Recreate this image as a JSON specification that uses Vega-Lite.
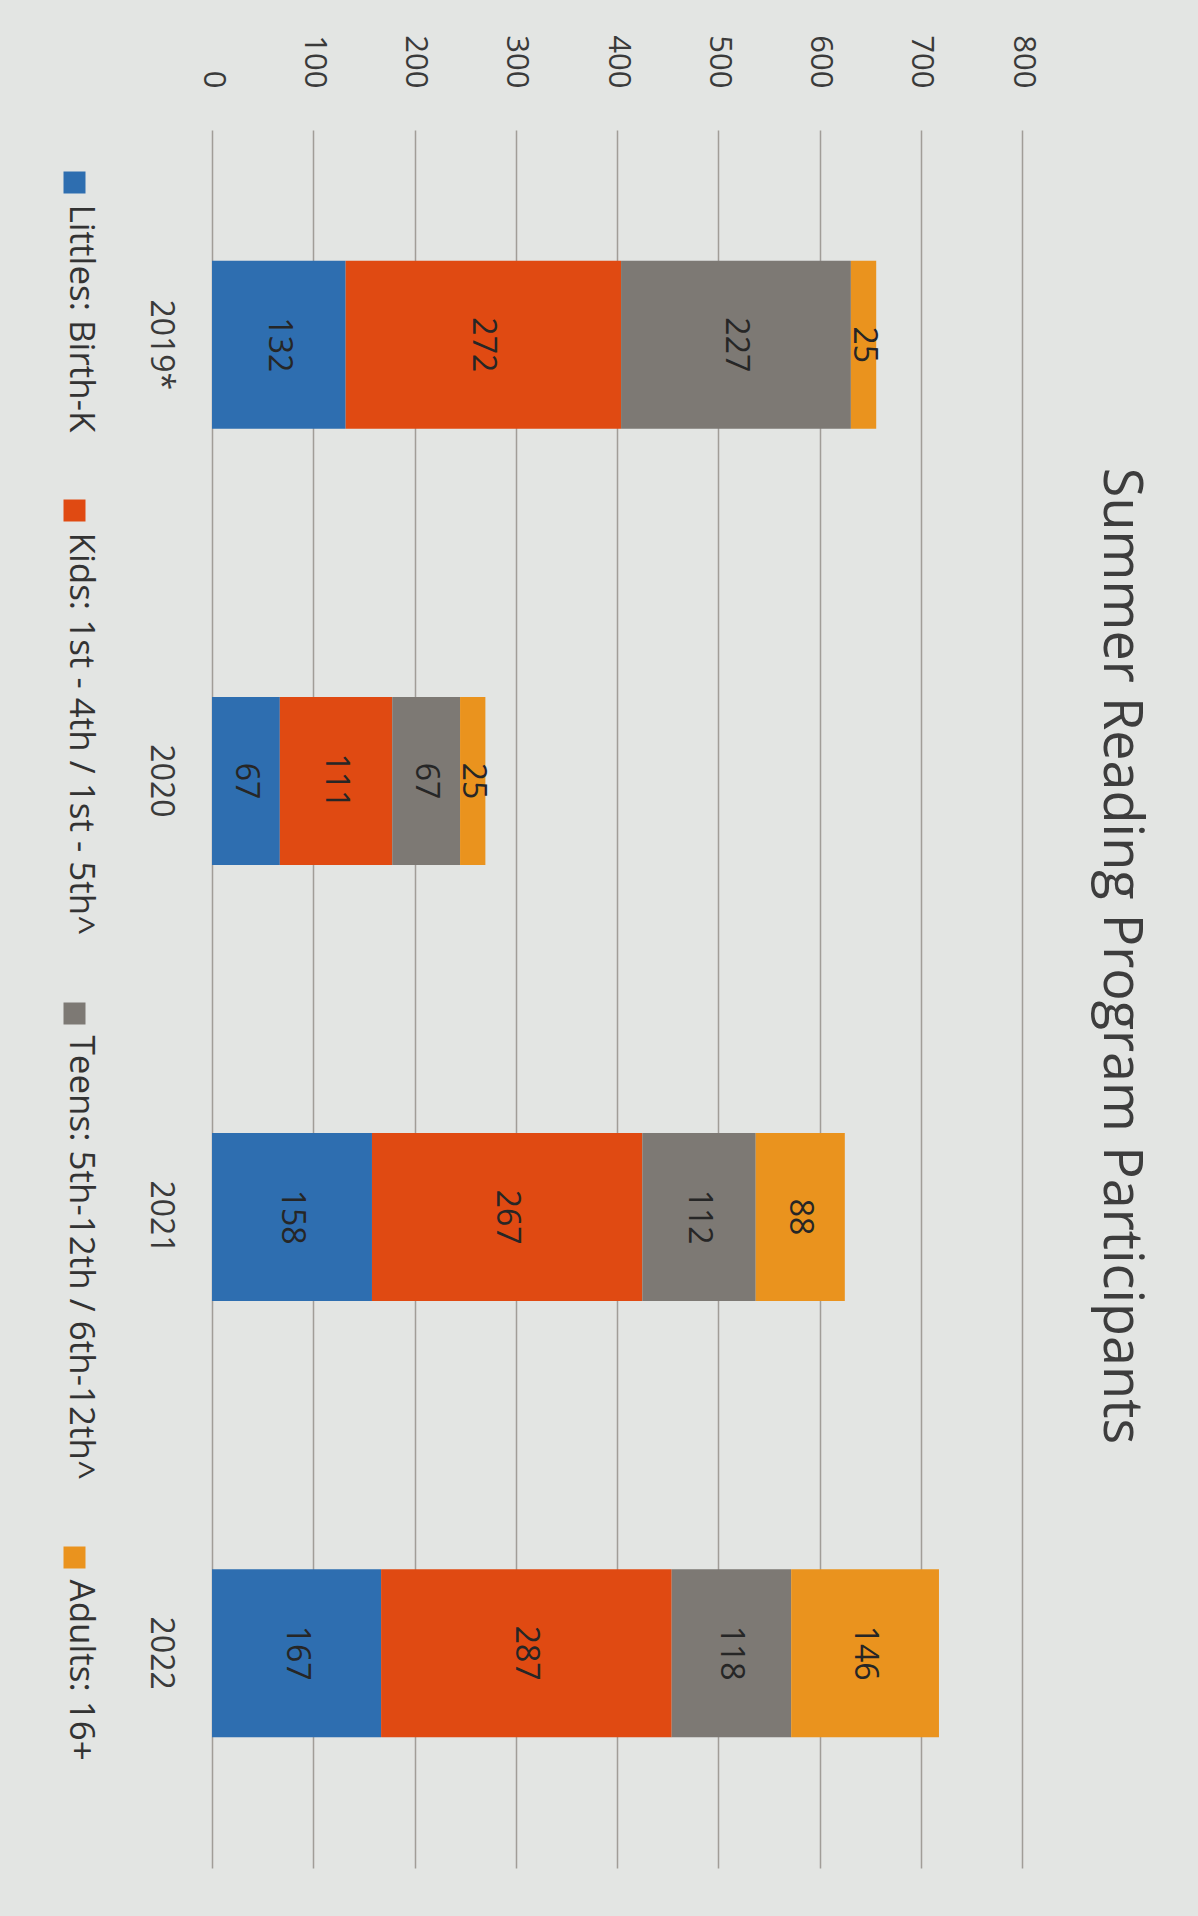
{
  "$schema": "https://vega.github.io/schema/vega-lite/v6.json",
  "width": 810,
  "height": 1738,
  "padding": {"left": 22, "top": 34, "right": 64, "bottom": 50},
  "background": "#e3e5e3",
  "title": {
    "text": "Summer Reading Program Participants",
    "orient": "right",
    "anchor": "middle",
    "fontSize": 54,
    "fontWeight": "normal",
    "font": "Open Sans",
    "color": "#3d3d3d",
    "offset": 55,
    "dx": -43
  },
  "data": {
    "values": [
      {"year": "2019*", "group": "Littles: Birth-K", "value": 132, "order": 1},
      {"year": "2019*", "group": "Kids: 1st - 4th / 1st - 5th^", "value": 272, "order": 2},
      {"year": "2019*", "group": "Teens: 5th-12th / 6th-12th^", "value": 227, "order": 3},
      {"year": "2019*", "group": "Adults: 16+", "value": 25, "order": 4},
      {"year": "2020", "group": "Littles: Birth-K", "value": 67, "order": 1},
      {"year": "2020", "group": "Kids: 1st - 4th / 1st - 5th^", "value": 111, "order": 2},
      {"year": "2020", "group": "Teens: 5th-12th / 6th-12th^", "value": 67, "order": 3},
      {"year": "2020", "group": "Adults: 16+", "value": 25, "order": 4},
      {"year": "2021", "group": "Littles: Birth-K", "value": 158, "order": 1},
      {"year": "2021", "group": "Kids: 1st - 4th / 1st - 5th^", "value": 267, "order": 2},
      {"year": "2021", "group": "Teens: 5th-12th / 6th-12th^", "value": 112, "order": 3},
      {"year": "2021", "group": "Adults: 16+", "value": 88, "order": 4},
      {"year": "2022", "group": "Littles: Birth-K", "value": 167, "order": 1},
      {"year": "2022", "group": "Kids: 1st - 4th / 1st - 5th^", "value": 287, "order": 2},
      {"year": "2022", "group": "Teens: 5th-12th / 6th-12th^", "value": 118, "order": 3},
      {"year": "2022", "group": "Adults: 16+", "value": 146, "order": 4}
    ]
  },
  "encoding": {
    "y": {
      "field": "year",
      "type": "nominal",
      "sort": ["2019*", "2020", "2021", "2022"],
      "scale": {"paddingInner": 0.615, "paddingOuter": 0.3},
      "axis": {
        "orient": "left",
        "labelAngle": 90,
        "labelAlign": "center",
        "labelBaseline": "top",
        "labelPadding": 37,
        "labelFontSize": 32,
        "grid": false,
        "title": null
      }
    },
    "order": {"field": "order", "type": "quantitative"}
  },
  "layer": [
    {
      "mark": {"type": "bar"},
      "encoding": {
        "x": {
          "field": "value",
          "type": "quantitative",
          "stack": "zero",
          "scale": {"domain": [0, 800]},
          "axis": {
            "orient": "top",
            "values": [0, 100, 200, 300, 400, 500, 600, 700, 800],
            "labelAngle": 90,
            "labelAlign": "right",
            "labelBaseline": "middle",
            "labelPadding": 42,
            "labelFontSize": 31,
            "grid": true,
            "gridColor": "#a19d98",
            "gridWidth": 1.5,
            "title": null
          }
        },
        "color": {
          "field": "group",
          "type": "nominal",
          "sort": ["Littles: Birth-K", "Kids: 1st - 4th / 1st - 5th^", "Teens: 5th-12th / 6th-12th^", "Adults: 16+"],
          "scale": {
            "domain": ["Littles: Birth-K", "Kids: 1st - 4th / 1st - 5th^", "Teens: 5th-12th / 6th-12th^", "Adults: 16+"],
            "range": ["#2e6eb0", "#e04a12", "#7d7974", "#ea931e"]
          },
          "legend": {
            "title": null,
            "orient": "left",
            "direction": "vertical",
            "symbolType": "square",
            "symbolSize": 484,
            "symbolStrokeWidth": 0,
            "labelFontSize": 35,
            "labelColor": "#333333",
            "labelLimit": 2000,
            "labelOffset": -11,
            "rowPadding": 60,
            "padding": 35,
            "offset": 10,
            "encoding": {
              "labels": {
                "angle": {"value": 90},
                "dx": {"value": 22},
                "align": {"value": "left"}
              }
            }
          }
        }
      }
    },
    {
      "mark": {"type": "text", "angle": 90, "align": "center", "baseline": "middle", "fontSize": 32, "color": "#262626"},
      "encoding": {
        "x": {
          "field": "value",
          "type": "quantitative",
          "stack": "zero",
          "bandPosition": 0.5,
          "scale": {"domain": [0, 800]},
          "axis": {
            "orient": "top",
            "values": [0, 100, 200, 300, 400, 500, 600, 700, 800],
            "labelAngle": 90,
            "labelAlign": "right",
            "labelBaseline": "middle",
            "labelPadding": 42,
            "labelFontSize": 31,
            "grid": true,
            "gridColor": "#a19d98",
            "gridWidth": 1.5,
            "title": null
          }
        },
        "detail": {"field": "group"},
        "text": {"field": "value", "type": "quantitative"}
      }
    }
  ],
  "config": {
    "font": "Open Sans",
    "view": {"stroke": null},
    "axis": {
      "domain": false,
      "ticks": false,
      "tickSize": 0,
      "labelColor": "#3a3a3a",
      "labelFont": "Open Sans"
    }
  }
}
